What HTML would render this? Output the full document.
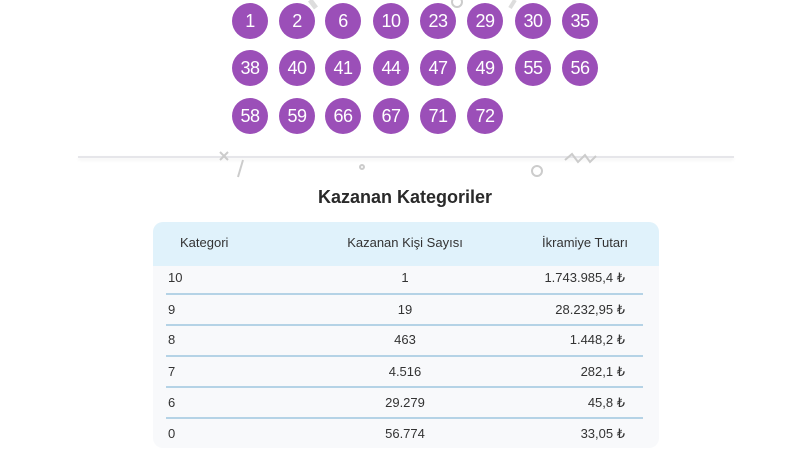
<!DOCTYPE html>
<html><head><meta charset="utf-8"><style>
body{margin:0;width:800px;height:450px;background:#fff;position:relative;overflow:hidden;font-family:"Liberation Sans",sans-serif;}
.b{position:absolute;width:36px;height:36px;border-radius:50%;background:#9b4fb8;color:#fff;font-size:18px;text-align:center;line-height:36px;letter-spacing:-0.5px}
.sep{position:absolute;left:78px;top:156px;width:656px;height:2px;background:#e6e6ea;box-shadow:0 2px 3px rgba(0,0,0,0.06)}
.title{position:absolute;left:0;width:810px;top:187px;text-align:center;font-size:18px;font-weight:bold;color:#2a2a2a}
.tbl{position:absolute;left:153px;top:222px;width:506px;height:226px;background:#f8f9fb;border-radius:10px;overflow:hidden}
.hd{position:absolute;left:0;top:0;width:506px;height:44px;background:#e0f2fb}
.t{position:absolute;font-size:13px;color:#333;white-space:nowrap}
.ln{position:absolute;left:13px;width:477px;height:2px;background:#b5d3e6}
</style></head><body>
<div class="sep"></div>
<svg style="position:absolute;left:0;top:0" width="800" height="200">
<g stroke="#ccc" stroke-width="2" fill="none">
<path d="M220 152 L228 160 M228 152 L220 160"/><path d="M243 160 L238 177"/>
<circle cx="362" cy="167" r="2"/><circle cx="537" cy="171" r="5"/>
<path d="M565 160 L572 154 L578 162 L585 155 L590 162 L596 156"/>
<path d="M310 0 L316 8" stroke="#ddd" stroke-width="5"/><circle cx="457" cy="2" r="5"/><path d="M515 0 L510 8" stroke="#ddd" stroke-width="4"/>
</g></svg>
<div class="b" style="left:232px;top:3px">1</div><div class="b" style="left:279px;top:3px">2</div><div class="b" style="left:325px;top:3px">6</div><div class="b" style="left:373px;top:3px">10</div><div class="b" style="left:420px;top:3px">23</div><div class="b" style="left:467px;top:3px">29</div><div class="b" style="left:515px;top:3px">30</div><div class="b" style="left:562px;top:3px">35</div>
<div class="b" style="left:232px;top:50px">38</div><div class="b" style="left:279px;top:50px">40</div><div class="b" style="left:325px;top:50px">41</div><div class="b" style="left:373px;top:50px">44</div><div class="b" style="left:420px;top:50px">47</div><div class="b" style="left:467px;top:50px">49</div><div class="b" style="left:515px;top:50px">55</div><div class="b" style="left:562px;top:50px">56</div>
<div class="b" style="left:232px;top:98px">58</div><div class="b" style="left:279px;top:98px">59</div><div class="b" style="left:325px;top:98px">66</div><div class="b" style="left:373px;top:98px">67</div><div class="b" style="left:420px;top:98px">71</div><div class="b" style="left:467px;top:98px">72</div>
<div class="title">Kazanan Kategoriler</div>
<div class="tbl"><div class="hd"></div>
<div class="ln" style="top:71px"></div><div class="ln" style="top:102px"></div><div class="ln" style="top:133px"></div><div class="ln" style="top:164px"></div><div class="ln" style="top:195px"></div>
</div>
<div class="t" style="left:180px;top:235px;font-size:13px">Kategori</div>
<div class="t" style="left:300px;width:210px;text-align:center;top:235px;font-size:13px">Kazanan Kişi Sayısı</div>
<div class="t" style="left:430px;width:198px;text-align:right;top:235px;font-size:13px">İkramiye Tutarı</div>
<div class="t" style="left:168px;top:270px">10</div><div class="t" style="left:300px;width:210px;text-align:center;top:270px">1</div><div class="t" style="left:430px;width:195px;text-align:right;top:270px">1.743.985,4 ₺</div>
<div class="t" style="left:168px;top:302px">9</div><div class="t" style="left:300px;width:210px;text-align:center;top:302px">19</div><div class="t" style="left:430px;width:195px;text-align:right;top:302px">28.232,95 ₺</div>
<div class="t" style="left:168px;top:332px">8</div><div class="t" style="left:300px;width:210px;text-align:center;top:332px">463</div><div class="t" style="left:430px;width:195px;text-align:right;top:332px">1.448,2 ₺</div>
<div class="t" style="left:168px;top:364px">7</div><div class="t" style="left:300px;width:210px;text-align:center;top:364px">4.516</div><div class="t" style="left:430px;width:195px;text-align:right;top:364px">282,1 ₺</div>
<div class="t" style="left:168px;top:395px">6</div><div class="t" style="left:300px;width:210px;text-align:center;top:395px">29.279</div><div class="t" style="left:430px;width:195px;text-align:right;top:395px">45,8 ₺</div>
<div class="t" style="left:168px;top:426px">0</div><div class="t" style="left:300px;width:210px;text-align:center;top:426px">56.774</div><div class="t" style="left:430px;width:195px;text-align:right;top:426px">33,05 ₺</div>
</body></html>
